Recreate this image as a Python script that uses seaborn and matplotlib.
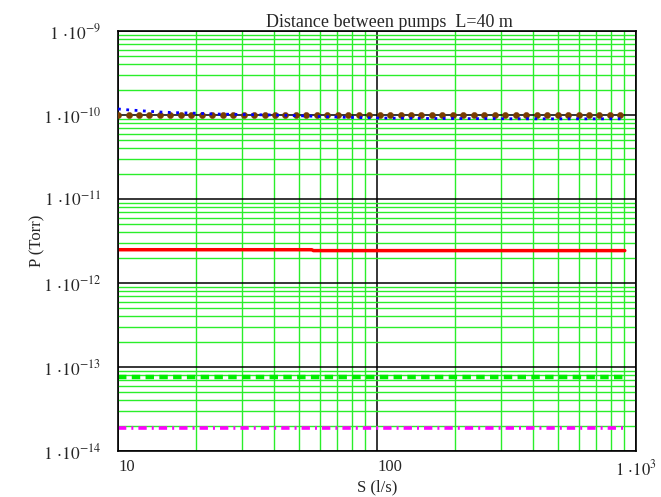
import numpy as np
import pandas as pd
import matplotlib
matplotlib.use("Agg")
import matplotlib.pyplot as plt
from matplotlib.ticker import FixedLocator, LogLocator, NullFormatter
import seaborn as sns

# Pumping speed samples for the marker series (l/s)
s_marks = [10.0, 10.98, 12.04, 13.22, 14.51, 15.92, 17.48, 19.18, 21.05, 23.10,
           25.36, 27.83, 30.54, 33.52, 36.79, 40.38, 44.31, 48.64, 53.38, 58.58,
           64.30, 70.57, 77.45, 85.00, 93.28, 102.4, 112.4, 123.3, 135.3, 148.5,
           163.0, 178.9, 196.4, 215.5, 236.5, 259.6, 284.9, 312.7, 343.2, 376.6,
           413.4, 453.7, 497.9, 546.5, 599.8, 658.2, 722.4, 792.9, 870.2]
p_marks = [1.0e-10] * len(s_marks)

# Average pressure curve (blue dotted)
s_blue = [10, 11, 12, 13.5, 15, 17, 20, 23, 27, 32, 40, 50, 60, 75, 100, 150, 250, 400, 600, 880]
p_blue = [1.18e-10, 1.15e-10, 1.13e-10, 1.10e-10, 1.08e-10, 1.065e-10, 1.05e-10,
          1.03e-10, 1.02e-10, 1.01e-10, 1.0e-10, 0.98e-10, 0.96e-10, 0.94e-10,
          0.92e-10, 0.91e-10, 0.905e-10, 0.90e-10, 0.90e-10, 0.90e-10]

# Other pressure components
s_red = [10, 56.0, 56.8, 905]
p_red = [2.49e-12, 2.49e-12, 2.43e-12, 2.43e-12]
s_green = [10, 905]
p_green = [7.5e-14, 7.5e-14]
s_mag = [10, 905]
p_mag = [1.9e-14, 1.9e-14]

x_ticks = [10, 100, 1000]
x_labels = ["10", "100", r"$1\,\cdot\!10^{3}$"]
y_ticks = [1e-14, 1e-13, 1e-12, 1e-11, 1e-10, 1e-9]
y_labels = [r"$1\,\cdot\!10^{%d}$" % e for e in (-14, -13, -12, -11, -10, -9)]

sns.set_theme(style="white")
plt.rcParams["font.family"] = ["Liberation Serif", "DejaVu Serif"]
plt.rcParams["mathtext.fontset"] = "stix"

fig = plt.figure(figsize=(6.61, 4.97), dpi=100)
ax = fig.add_axes([118 / 661, 1 - 451 / 497, (636 - 118) / 661, (451 - 31) / 497])
ax.set_xscale("log")
ax.set_yscale("log")
ax.set_xlim(10, 1000)
ax.set_ylim(1e-14, 1e-9)

# grid: green minors, black decades
ax.xaxis.set_minor_locator(LogLocator(base=10, subs=np.arange(2, 10)))
ax.yaxis.set_minor_locator(LogLocator(base=10, subs=np.arange(2, 10)))
ax.xaxis.set_minor_formatter(NullFormatter())
ax.yaxis.set_minor_formatter(NullFormatter())
ax.grid(True, which="minor", color="#2aee2a", linewidth=1.0)
ax.grid(True, which="major", color="black", linewidth=1.1)
ax.set_axisbelow(True)

d_blue = pd.DataFrame({"S": s_blue, "P": p_blue})
d_red = pd.DataFrame({"S": s_red, "P": p_red})
d_green = pd.DataFrame({"S": s_green, "P": p_green})
d_mag = pd.DataFrame({"S": s_mag, "P": p_mag})
d_marks = pd.DataFrame({"S": s_marks, "P": p_marks})

sns.lineplot(data=d_red, x="S", y="P", ax=ax, color="#ff0000", linewidth=2.5,
             estimator=None, sort=False)
sns.lineplot(data=d_green, x="S", y="P", ax=ax, color="#00ee00", linewidth=3.2,
             estimator=None).lines[-1].set_dashes((1.9, 1.2))
sns.lineplot(data=d_mag, x="S", y="P", ax=ax, color="#ff00ff", linewidth=2.6,
             estimator=None).lines[-1].set_dashes((2.3, 1.4, 0.55, 1.4))
sns.scatterplot(data=d_marks, x="S", y="P", ax=ax, color="#7a3d00", s=20,
                edgecolor="#7a3d00", linewidth=0.3, zorder=4)
sns.lineplot(data=d_blue, x="S", y="P", ax=ax, color="#0000ff", linewidth=2.0,
             estimator=None, zorder=5).lines[-1].set_dashes((1.0, 2.0))

ax.xaxis.set_major_locator(FixedLocator(x_ticks))
ax.yaxis.set_major_locator(FixedLocator(y_ticks))
ax.set_xticklabels(x_labels, fontsize=12)
ax.set_yticklabels(y_labels, fontsize=12.5)
for lab, ha in zip(ax.get_xticklabels(), ["left", "left", "center"]):
    lab.set_horizontalalignment(ha)
ax.tick_params(axis="both", which="both", length=0)
ax.tick_params(axis="x", pad=6)
ax.tick_params(axis="y", pad=12)

for sp in ax.spines.values():
    sp.set_color("black")
    sp.set_linewidth(1.2)
    sp.set_visible(True)

ax.set_xlabel("S (l/s)", fontsize=12, labelpad=0)
ax.set_ylabel("P (Torr)", fontsize=12, labelpad=-2)
fig.text(389 / 661, 1 - 27 / 497, "Distance between pumps  L=40 m",
         ha="center", va="baseline", fontsize=13)

fig.savefig("out.png", dpi=100)
